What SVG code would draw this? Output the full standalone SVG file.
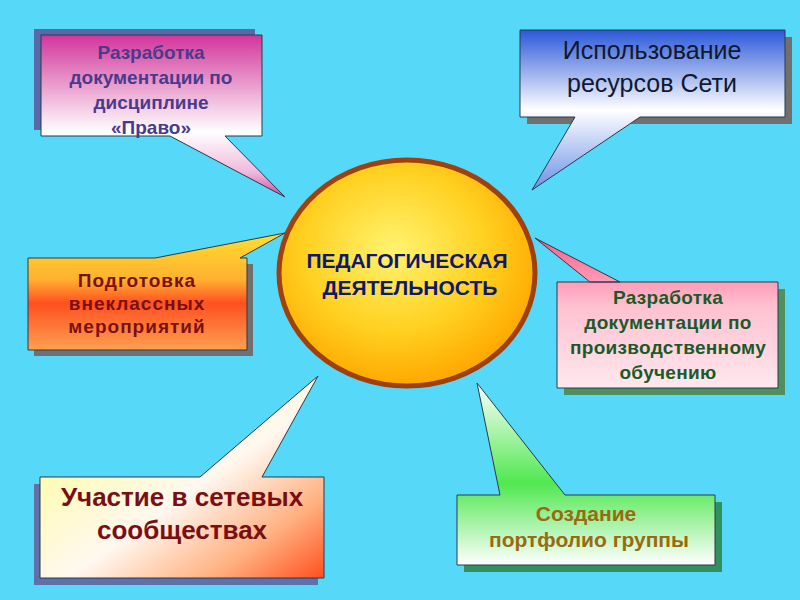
<svg xmlns="http://www.w3.org/2000/svg" width="800" height="600" viewBox="0 0 800 600">
<defs>
<linearGradient id="g1" x1="0" y1="0" x2="0" y2="1"><stop offset="0" stop-color="#d2359a"/><stop offset="0.6" stop-color="#ffffff"/><stop offset="0.85" stop-color="#f0b8dc"/><stop offset="1" stop-color="#d04aa0"/></linearGradient>
<linearGradient id="g2" x1="0" y1="0" x2="0" y2="1"><stop offset="0" stop-color="#2a58d8"/><stop offset="0.5" stop-color="#ffffff"/><stop offset="1" stop-color="#6a90e8"/></linearGradient>
<linearGradient id="g3" x1="0" y1="0" x2="0" y2="1"><stop offset="0" stop-color="#ffe030"/><stop offset="0.4" stop-color="#ffb030"/><stop offset="0.6" stop-color="#ff5020"/><stop offset="1" stop-color="#ffa050"/></linearGradient>
<linearGradient id="g4" x1="0" y1="0" x2="0" y2="1"><stop offset="0" stop-color="#ff5a8a"/><stop offset="0.45" stop-color="#ffc0d0"/><stop offset="1" stop-color="#ffe8ee"/></linearGradient>
<linearGradient id="g5" x1="0" y1="0" x2="1" y2="1"><stop offset="0" stop-color="#ffff80"/><stop offset="0.55" stop-color="#fff8f0"/><stop offset="0.8" stop-color="#ffb080"/><stop offset="1" stop-color="#ff5020"/></linearGradient>
<linearGradient id="g6" x1="0" y1="0" x2="0" y2="1"><stop offset="0" stop-color="#ffffff"/><stop offset="0.55" stop-color="#50e850"/><stop offset="1" stop-color="#ffffff"/></linearGradient>
<radialGradient id="gc" cx="0.45" cy="0.4" r="0.6"><stop offset="0" stop-color="#fff470"/><stop offset="0.6" stop-color="#ffd020"/><stop offset="1" stop-color="#ffa800"/></radialGradient>
</defs>
<style>
.c{stroke:#2a3a4a;stroke-width:1}
.t{font-family:"Liberation Sans",Arial,sans-serif;font-weight:bold;text-anchor:middle}
</style>
<rect width="800" height="600" fill="#56d8f8"/>
<g id="n1">
<rect x="34" y="29" width="221" height="101" fill="#5868a8"/>
<path class="c" d="M41,35H262V136H225L285,197L170,136H41Z" fill="url(#g1)"/>
<text class="t" font-size="19" fill="#4a3a8c"><tspan x="151" y="59">Разработка</tspan><tspan x="151" y="84">документации по</tspan><tspan x="151" y="109">дисциплине</tspan><tspan x="151" y="134">«Право»</tspan></text>
</g>
<g id="n2">
<rect x="527" y="37" width="265" height="87" fill="#707070"/>
<path class="c" d="M520,30H785V117H640L532,190L575,117H520Z" fill="url(#g2)"/>
<text font-family="Liberation Sans,Arial,sans-serif" font-size="25" fill="#101830" text-anchor="middle"><tspan x="652" y="59">Использование</tspan><tspan x="652" y="92">ресурсов Сети</tspan></text>
</g>
<g id="n3">
<rect x="34" y="264" width="219" height="92" fill="#707070"/>
<path class="c" d="M28,258H155L285,233L240,258H247V350H28Z" fill="url(#g3)"/>
<text class="t" font-size="19" fill="#7a1010" letter-spacing="1"><tspan x="137" y="287">Подготовка</tspan><tspan x="137" y="310">внеклассных</tspan><tspan x="137" y="333">мероприятий</tspan></text>
</g>
<g id="n4">
<rect x="564" y="289" width="221" height="106" fill="#509060"/>
<path class="c" d="M557,282H620L535,238L590,282H778V388H557Z" fill="url(#g4)"/>
<text class="t" font-size="19" fill="#1a5a2a" letter-spacing="0.3"><tspan x="668" y="304">Разработка</tspan><tspan x="668" y="329">документации по</tspan><tspan x="668" y="354">производственному</tspan><tspan x="668" y="379">обучению</tspan></text>
</g>
<g id="n5">
<rect x="34" y="484" width="284" height="101" fill="#6070a8"/>
<path class="c" d="M40,477H200L318,376L262,477H324V578H40Z" fill="url(#g5)"/>
<text class="t" font-size="26" fill="#7a0e10"><tspan x="182" y="506">Участие в сетевых</tspan><tspan x="182" y="539">сообществах</tspan></text>
</g>
<g id="n6">
<rect x="464" y="502" width="258" height="70" fill="#309060"/>
<path class="c" d="M457,495H500L477,383L565,495H715V565H457Z" fill="url(#g6)"/>
<text class="t" font-size="21" fill="#9a6a10"><tspan x="586" y="521">Создание</tspan><tspan x="589" y="547">портфолио группы</tspan></text>
</g>
<g id="center">
<ellipse cx="407" cy="273" rx="128" ry="113" fill="url(#gc)" stroke="#a0400e" stroke-width="5"/>
<text class="t" font-size="21" fill="#10186a"><tspan x="407" y="268">ПЕДАГОГИЧЕСКАЯ</tspan><tspan x="410" y="295">ДЕЯТЕЛЬНОСТЬ</tspan></text>
</g>
<g id="connectors"/>
</svg>
